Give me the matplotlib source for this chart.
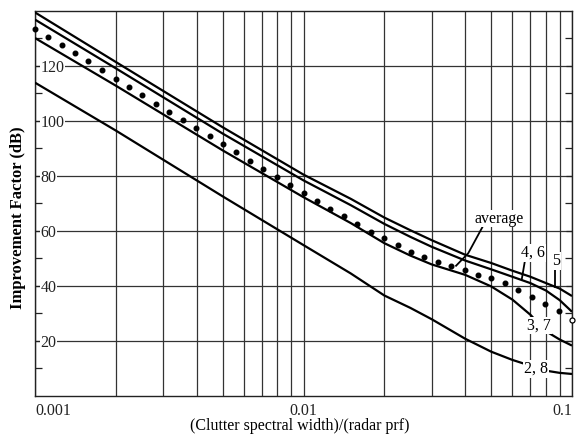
import matplotlib
matplotlib.use('Agg')
import matplotlib.pyplot as plt
from matplotlib.ticker import NullFormatter

plt.rcParams['font.family'] = ['Liberation Serif', 'DejaVu Serif']

# ---- data ----
line_x = [0.001, 0.002, 0.005, 0.01, 0.015, 0.02, 0.025, 0.03, 0.04, 0.05, 0.06, 0.07, 0.08, 0.09, 0.1]
curve_5 = [139.3, 121.3, 97.6, 80.4, 71.6, 64.8, 60.2, 56.6, 51.3, 48.3, 45.5, 43.3, 41.0, 39.0, 36.3]
curve_4_6 = [136.7, 119.0, 95.3, 78.3, 69.3, 62.5, 57.8, 54.2, 49.2, 46.0, 43.3, 41.0, 38.3, 34.8, 30.6]
curve_3_7 = [130.0, 112.7, 89.2, 72.2, 62.8, 55.5, 51.0, 47.8, 44.0, 39.8, 35.0, 29.5, 23.5, 20.5, 18.3]
curve_2_8 = [113.8, 96.4, 72.5, 54.8, 44.5, 36.5, 32.0, 27.9, 20.8, 16.1, 13.1, 11.0, 9.2, 8.4, 8.0]

avg_x = [0.00100, 0.00112, 0.00126, 0.00141, 0.00158, 0.00178, 0.00200, 0.00224,
         0.00251, 0.00282, 0.00316, 0.00355, 0.00398, 0.00447, 0.00501, 0.00562,
         0.00631, 0.00708, 0.00794, 0.00891, 0.0100, 0.0112, 0.0126, 0.0141,
         0.0158, 0.0178, 0.0200, 0.0224, 0.0251, 0.0282, 0.0316, 0.0355, 0.0398,
         0.0447, 0.0501, 0.0562, 0.0631, 0.0708, 0.0794, 0.0891, 0.100]
avg_y = [133.3, 130.4, 127.4, 124.6, 121.5, 118.4, 115.3, 112.3, 109.2, 106.1,
         103.0, 100.4, 97.3, 94.3, 91.5, 88.5, 85.5, 82.5, 79.4, 76.7,
         73.9, 70.7, 68.0, 65.2, 62.5, 59.7, 57.3, 54.7, 52.2, 50.4,
         48.6, 47.3, 45.6, 44.0, 43.0, 41.0, 38.5, 35.9, 33.3, 30.7, 27.6]

x_ticks = [0.001, 0.01, 0.1]
x_ticklabels = ['0.001', '0.01', '0.1']
y_ticks = [20, 40, 60, 80, 100, 120]
y_ticklabels = ['20', '40', '60', '80', '100', '120']
y_minor = [10, 30, 50, 70, 90, 110, 130]

# annotation texts and anchor points (data coords)
labels = ['average', '4, 6', '5', '3, 7', '2, 8']
label_x = [0.0535, 0.0716, 0.0871, 0.0754, 0.0735]
label_y = [64.4, 52.0, 49.1, 25.6, 9.8]
avg_ptr_x = [0.0469, 0.0411, 0.0370]
avg_ptr_y = [62.2, 51.9, 47.3]
p46_x = [0.0667, 0.0650]
p46_y = [48.8, 42.4]
p5_x = [0.0863, 0.0863]
p5_y = [45.8, 39.7]

# ---- figure ----
fig = plt.figure(figsize=(5.78, 4.41), dpi=100)
ax = fig.add_axes([35 / 578, 1 - 396 / 441, 537 / 578, 385.5 / 441])
ax.set_xscale('log')
ax.set_xlim(0.001, 0.1)
ax.set_ylim(0, 140)
ax.set_axisbelow(True)

gcol = '#333333'
ax.grid(True, which='both', axis='x', color=gcol, lw=0.9)
ax.grid(True, which='major', axis='y', color=gcol, lw=0.9)
for s in ax.spines.values():
    s.set_color('#222222')
    s.set_linewidth(1.0)

lw = 1.6
for cy in (curve_5, curve_4_6, curve_3_7, curve_2_8):
    ax.plot(line_x, cy, color='black', lw=lw, zorder=3, solid_capstyle='butt')

ax.plot(avg_x[:-1], avg_y[:-1], 'o', color='black', ms=3.3, ls='none', zorder=4,
        clip_on=False)
ax.plot(avg_x[-1:], avg_y[-1:], 'o', mfc='white', mec='black', ms=3.6, mew=0.9,
        ls='none', zorder=4, clip_on=False)

# pointers
ax.plot(avg_ptr_x, avg_ptr_y, color='black', lw=1.3, zorder=5)
ax.plot(p46_x, p46_y, color='black', lw=1.3, zorder=5)
ax.plot(p5_x, p5_y, color='black', lw=1.3, zorder=5)

for t, lx, ly in zip(labels, label_x, label_y):
    ax.text(lx, ly, t, fontsize=11.5, ha='center', va='center', zorder=6,
            bbox=dict(facecolor='white', edgecolor='none', pad=0.6))

# ticks
ax.set_xticks(x_ticks)
ax.set_xticklabels(x_ticklabels)
ax.xaxis.set_minor_formatter(NullFormatter())
ax.tick_params(axis='x', which='both', direction='in', length=0, pad=5,
               labelsize=11.5, colors='#222222')
for t, ha in zip(ax.xaxis.get_major_ticks(), ['left', 'center', 'right']):
    t.label1.set_horizontalalignment(ha)

ax.set_yticks(y_ticks)
ax.set_yticklabels(y_ticklabels)
ax.set_yticks(y_minor, minor=True)
ax.tick_params(axis='y', which='major', direction='in', length=4, width=0.9,
               pad=-4, labelsize=11.5, left=True, right=True, colors='#222222')
ax.tick_params(axis='y', which='minor', direction='in', length=5, width=0.9,
               left=True, right=True, colors='#222222')
for t in ax.yaxis.get_major_ticks():
    t.label1.set_horizontalalignment('left')
    t.label1.set_bbox(dict(facecolor='white', edgecolor='none', pad=0.3))

ax.set_xlabel('(Clutter spectral width)/(radar prf)', fontsize=11.5)
ax.xaxis.set_label_coords(0.493, -0.057)
ax.set_ylabel('Improvement Factor (dB)', fontsize=12, fontweight='bold')
ax.yaxis.set_label_coords(-0.016, 0.462)

fig.savefig('out.png', dpi=100)
